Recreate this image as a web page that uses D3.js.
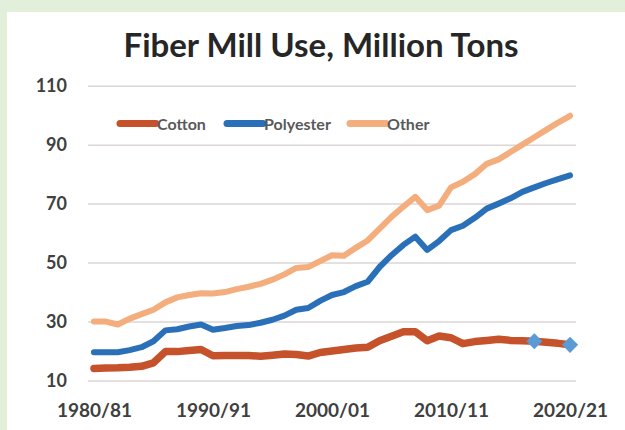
<!DOCTYPE html>
<html>
<head>
<meta charset="utf-8">
<script src="https://cdn.jsdelivr.net/npm/d3@7"></script>
<style>
  body { margin: 0; background: #e2efda; }
  svg { display: block; }
  .tick text { font-family: Lato, "Open Sans", sans-serif; font-weight: bold; fill: #404040; }
</style>
</head>
<body>
<svg id="chart" width="625" height="430"></svg>
<script>
// seasons shown on the axis, one per year from 1980/81 to 2020/21
var startYears = d3.range(1980, 2021);
var seasons = startYears.map(function(y) {
  return y + "/" + String((y + 1) % 100).padStart(2, "0");
});

// million tons
var cotton = [14.1, 14.2, 14.3, 14.5, 14.8, 16.0, 19.8, 19.8, 20.2, 20.5,
              18.4, 18.5, 18.5, 18.5, 18.2, 18.6, 19.0, 18.8, 18.3, 19.5,
              20.0, 20.5, 21.0, 21.3, 23.5, 25.0, 26.5, 26.5, 23.5, 25.1,
              24.5, 22.5, 23.2, 23.6, 24.0, 23.6, 23.5, 23.3, 23.0, 22.6, 22.1];
var polyester = [19.6, 19.6, 19.6, 20.3, 21.3, 23.3, 27.0, 27.4, 28.3, 29.0,
                 27.2, 27.8, 28.5, 28.8, 29.6, 30.6, 32.0, 34.0, 34.6, 37.0,
                 39.0, 40.0, 42.0, 43.5, 48.5, 52.5, 56.0, 58.8, 54.3, 57.3,
                 61.0, 62.5, 65.2, 68.3, 70.0, 71.8, 74.0, 75.5, 77.0, 78.3, 79.6];
var other = [30.0, 30.0, 29.0, 31.0, 32.5, 34.0, 36.5, 38.2, 39.0, 39.6,
             39.5, 40.0, 41.0, 41.8, 42.8, 44.2, 46.0, 48.2, 48.5, 50.5,
             52.5, 52.3, 55.0, 57.5, 61.5, 65.5, 69.0, 72.3, 67.8, 69.3,
             75.5, 77.4, 80.0, 83.5, 85.0, 87.5, 90.0, 92.5, 95.0, 97.5, 99.8];

// cotton seasons flagged with a marker
var markedSeasons = ["2017/18", "2020/21"];

var xTicks = ["1980/81", "1990/91", "2000/01", "2010/11", "2020/21"];
var yTicks = [10, 30, 50, 70, 90, 110];

var series = [
  {name: "Cotton", values: cotton, color: "#c5522a", width: 7.5},
  {name: "Polyester", values: polyester, color: "#2a70b8", width: 6},
  {name: "Other", values: other, color: "#f4ad7c", width: 6}
];

var svg = d3.select("#chart");

// white panel over the green page
svg.append("rect")
    .attr("x", 7)
    .attr("y", 12)
    .attr("width", 618)
    .attr("height", 418)
    .style("fill", "white");

// plot area edges (not named top/left: those clash with window globals)
var plotLeft = 88, plotRight = 576, plotTop = 85.7, plotBottom = 380.5;

var x = d3.scalePoint()
    .domain(seasons)
    .range([plotLeft, plotRight])
    .padding(0.5);

var y = d3.scaleLinear()
    .domain([10, 110])
    .range([plotBottom, plotTop]);

// title
svg.append("text")
    .attr("x", 321)
    .attr("y", 57)
    .attr("text-anchor", "middle")
    .style("font-family", "Lato, 'Open Sans', sans-serif")
    .style("font-weight", "bold")
    .style("font-size", "33px")
    .style("fill", "#262626")
    .text("Fiber Mill Use, Million Tons");

// y axis with gridlines
var yAxis = svg.append("g")
    .attr("transform", "translate(" + plotLeft + ",0)")
    .call(d3.axisLeft(y)
        .tickValues(yTicks)
        .tickSize(-(plotRight - plotLeft))
        .tickPadding(21));

yAxis.select(".domain").remove();
yAxis.selectAll(".tick line")
    .style("stroke", "#dcd6d6")
    .style("stroke-width", 1.5);
yAxis.selectAll(".tick text")
    .style("font-size", "18px");

// x axis labels only
var xAxis = svg.append("g")
    .attr("transform", "translate(0," + plotBottom + ")")
    .call(d3.axisBottom(x)
        .tickValues(xTicks)
        .tickSize(0)
        .tickPadding(23));

xAxis.select(".domain").remove();
xAxis.selectAll(".tick text")
    .style("font-size", "19px");

var line = d3.line()
    .x(function(d, i) { return x(seasons[i]); })
    .y(function(d) { return y(d); });

// draw other first so cotton sits on top like the original
series.slice().reverse().forEach(function(s) {
  svg.append("path")
      .datum(s.values)
      .attr("d", line)
      .style("fill", "none")
      .style("stroke", s.color)
      .style("stroke-width", s.width)
      .style("stroke-linejoin", "round")
      .style("stroke-linecap", "round");
});

// diamond markers on cotton
svg.selectAll(".marker")
    .data(markedSeasons)
    .enter().append("path")
    .attr("class", "marker")
    .attr("d", d3.symbol(d3.symbolSquare, 130))
    .attr("transform", function(d) {
      return "translate(" + x(d) + "," + y(cotton[seasons.indexOf(d)]) + ") rotate(45)";
    })
    .style("fill", "#5b9bd5");

// legend
var legendX = [120, 227, 350];
var legend = svg.selectAll(".legend")
    .data(series)
    .enter().append("g")
    .attr("class", "legend")
    .attr("transform", function(d, i) { return "translate(" + legendX[i] + ",123.5)"; });

legend.append("line")
    .attr("x1", 0)
    .attr("x2", 36)
    .style("stroke", function(d) { return d.color; })
    .style("stroke-width", 7)
    .style("stroke-linecap", "round");

legend.append("text")
    .attr("x", 37)
    .attr("y", 6)
    .style("font-family", "Lato, 'Open Sans', sans-serif")
    .style("font-weight", "bold")
    .style("font-size", "16px")
    .style("fill", "#595959")
    .text(function(d) { return d.name; });
</script>
</body>
</html>
